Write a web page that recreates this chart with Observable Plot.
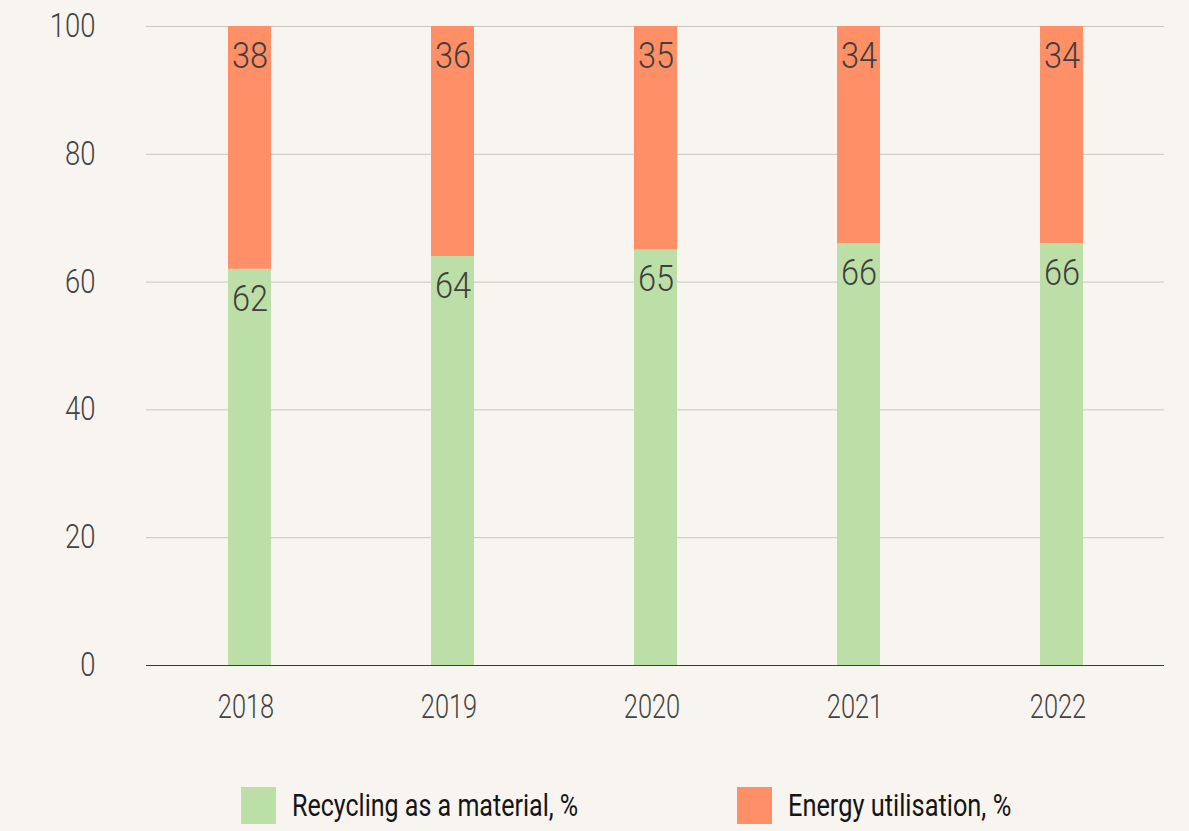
<!DOCTYPE html>
<html><head><meta charset="utf-8">
<script src="https://cdn.jsdelivr.net/npm/d3@7"></script>
<script src="https://cdn.jsdelivr.net/npm/@observablehq/plot@0.6"></script>
<style>
html,body{margin:0;padding:0;background:#f8f4f0;overflow:hidden;}
#chart svg{display:block;}
.legend{position:relative;height:86px;font-family:Roboto,sans-serif;}
.item{position:absolute;top:42px;display:flex;align-items:center;}
.sw{width:35px;height:37px;flex:none;}
.lab{font-size:31px;color:#151515;margin-left:16px;display:inline-block;transform-origin:0 50%;white-space:nowrap;line-height:37px;}
</style></head><body>
<div id="chart"></div>
<div class="legend" id="legend"></div>
<script>
const years = ["2018","2019","2020","2021","2022"];
const recycling = [62,64,65,66,66];
const energy = [38,36,35,34,34];
const seriesNames = ["Recycling as a material, %","Energy utilisation, %"];
const seriesColors = ["#bbdfa6","#ff8f66"];
const yTicks = [0,20,40,60,80,100];

const rows = [];
years.forEach((yr,i)=>{
  rows.push({year:yr, series:seriesNames[0], value:recycling[i]});
  rows.push({year:yr, series:seriesNames[1], value:energy[i]});
});

const ctx = document.createElement("canvas").getContext("2d");
function inkWidth(font, s){ ctx.font = font; const m = ctx.measureText(s); return (m.actualBoundingBoxLeft + m.actualBoundingBoxRight) || m.width; }
const sY = 43 / inkWidth("300 33px Roboto","100");
const sX = 55 / inkWidth("300 34px Roboto","2018");
const sB = 33 / inkWidth("300 37px Roboto","65");

const plot = Plot.plot({
  width: 1189, height: 745,
  marginLeft: 146, marginRight: 25, marginTop: 26, marginBottom: 80,
  style: {background: "#f8f4f0", fontFamily: "Roboto, sans-serif", fontWeight: 300, color: "#444"},
  x: {domain: years, paddingInner: 0.79, paddingOuter: 0.395, label: null},
  y: {domain: [0,100], label: null},
  color: {domain: seriesNames, range: seriesColors},
  marks: [
    Plot.gridY(yTicks, {stroke: "#c9c6c3", strokeOpacity: 1}),
    Plot.barY(rows, {x: "year", y: "value", fill: "series", order: seriesNames}),
    Plot.text(rows, Plot.stackY2({x: "year", y: "value", z: "series", text: d => String(d.value), order: seriesNames, lineAnchor: "top", dy: 15, fontSize: 37, fill: "#3f3f3f", fontWeight: 300})),
    Plot.ruleY([0], {stroke: "#3a3a44", strokeWidth: 1.2}),
    Plot.axisY(yTicks, {tickSize: 0, tickPadding: 51, fontSize: 33, fill: "#444", label: null}),
    Plot.axisX({tickSize: 0, tickPadding: 28, fontSize: 34, fill: "#444", label: null, dx: -4})
  ]
});
document.getElementById("chart").appendChild(plot);

function squeeze(sel, s){
  d3.select(plot).selectAll(sel).each(function(){
    const t = this.getAttribute("transform") || "";
    this.setAttribute("transform", t + ` scale(${s},1)`);
  });
}
squeeze('g[aria-label="y-axis tick label"] text', sY);
squeeze('g[aria-label="x-axis tick label"] text', sX);
squeeze('g[aria-label="text"] text', sB);

const legendLefts = [241, 737];
const legendTargets = [284, 221];
const leg = document.getElementById("legend");
seriesNames.forEach((name,i)=>{
  const item = document.createElement("div");
  item.className = "item";
  item.style.left = legendLefts[i] + "px";
  const sw = document.createElement("div");
  sw.className = "sw"; sw.style.background = seriesColors[i];
  const lab = document.createElement("span");
  lab.className = "lab"; lab.textContent = name;
  const s = legendTargets[i] / inkWidth("400 31px Roboto", name);
  lab.style.transform = `scaleX(${s})`;
  item.appendChild(sw); item.appendChild(lab);
  leg.appendChild(item);
});
</script>
</body></html>
